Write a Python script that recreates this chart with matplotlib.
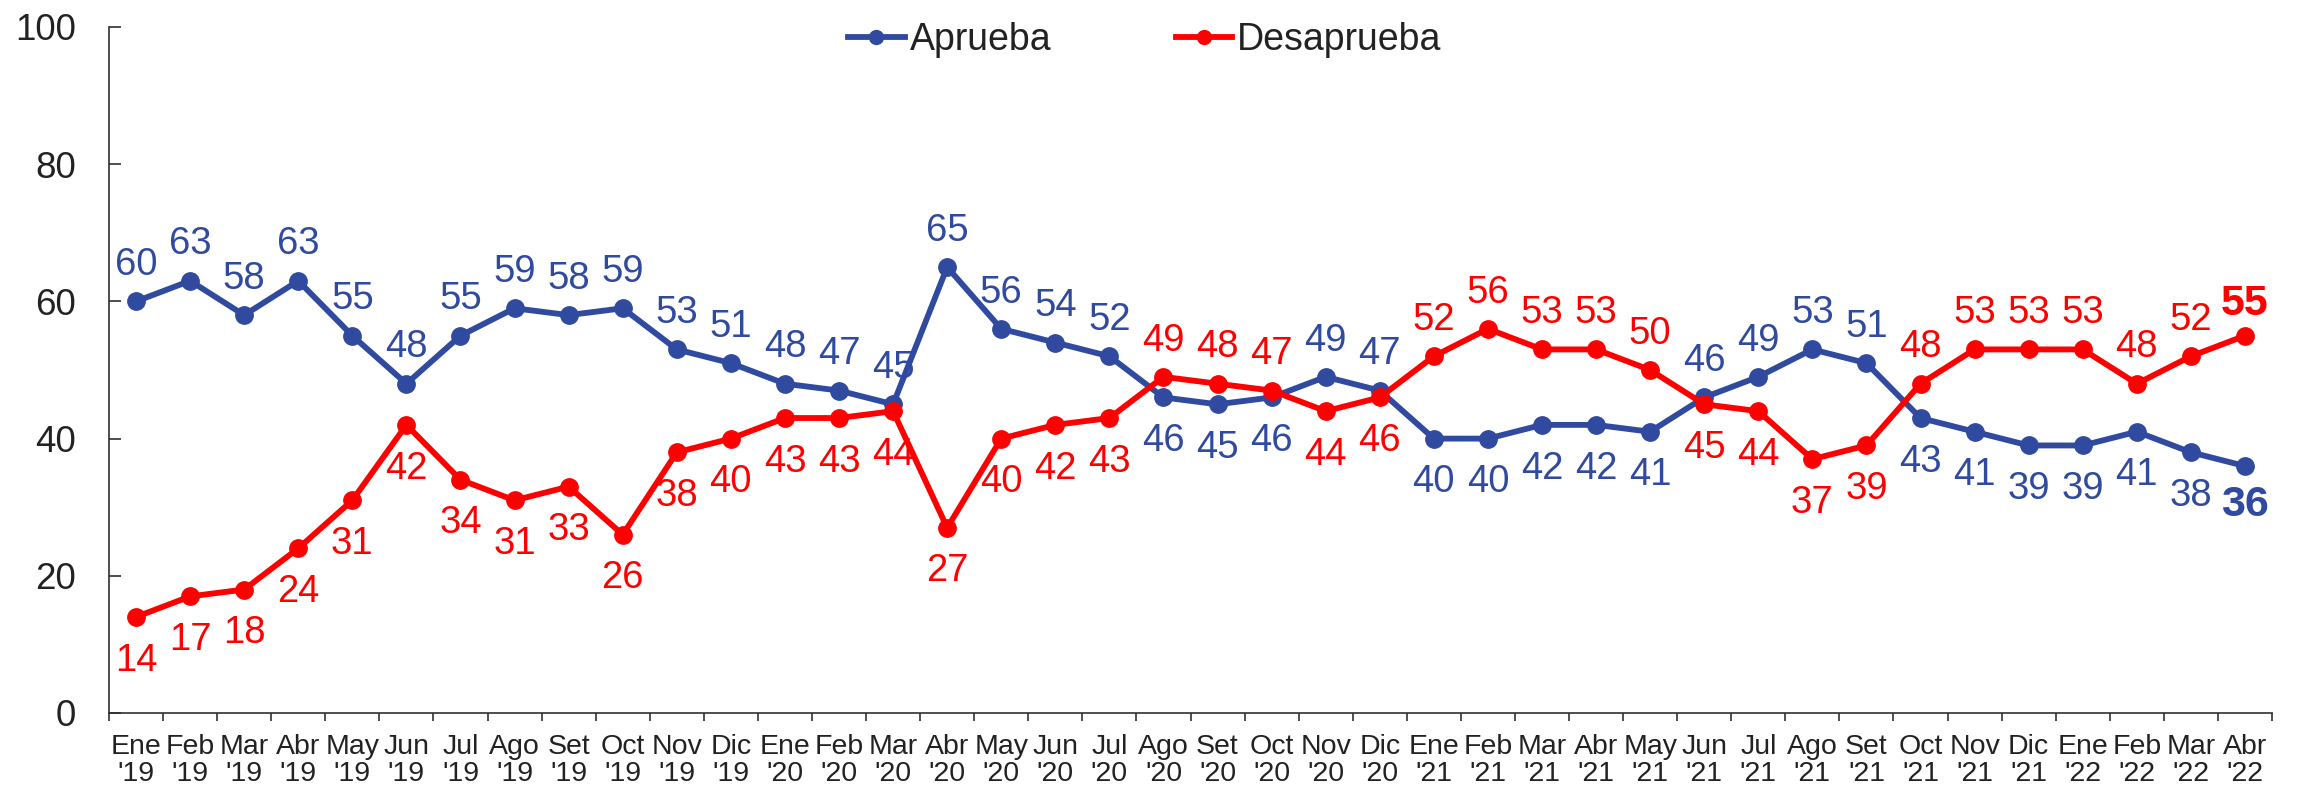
import matplotlib
matplotlib.use("Agg")
import matplotlib.pyplot as plt
from matplotlib.lines import Line2D

plt.rcParams['font.family'] = ['Liberation Sans', 'DejaVu Sans']

months = ["Ene '19", "Feb '19", "Mar '19", "Abr '19", "May '19", "Jun '19", "Jul '19", "Ago '19",
          "Set '19", "Oct '19", "Nov '19", "Dic '19",
          "Ene '20", "Feb '20", "Mar '20", "Abr '20", "May '20", "Jun '20", "Jul '20", "Ago '20",
          "Set '20", "Oct '20", "Nov '20", "Dic '20",
          "Ene '21", "Feb '21", "Mar '21", "Abr '21", "May '21", "Jun '21", "Jul '21", "Ago '21",
          "Set '21", "Oct '21", "Nov '21", "Dic '21",
          "Ene '22", "Feb '22", "Mar '22", "Abr '22"]
tick_labels = [m.replace(" ", "\n") for m in months]

aprueba = [60, 63, 58, 63, 55, 48, 55, 59, 58, 59, 53, 51, 48, 47, 45, 65, 56, 54, 52, 46,
           45, 46, 49, 47, 40, 40, 42, 42, 41, 46, 49, 53, 51, 43, 41, 39, 39, 41, 38, 36]
desaprueba = [14, 17, 18, 24, 31, 42, 34, 31, 33, 26, 38, 40, 43, 43, 44, 27, 40, 42, 43, 49,
              48, 47, 44, 46, 52, 56, 53, 53, 50, 45, 44, 37, 39, 48, 53, 53, 53, 48, 52, 55]
# label placement: 'a' = above point, 'b' = below point
aprueba_pos = list("aaaaaaaaaaaaaaaaaaa" "bbb" "aa" "bbbbb" "aaaa" "bbbbbbb")
desaprueba_pos = list("bbbbbbbbbbbbbbbbbbb" "aaa" "bb" "aaaaa" "bbbb" "aaaaaaa")

BLUE = "#2F4A9E"
RED = "#FF0000"
TXT = "#222222"

fig = plt.figure(figsize=(22.98, 7.90), dpi=100)
ax = fig.add_axes([109/2298, 1-713/790, (2272-109)/2298, (713-27)/790])

x = list(range(len(months)))
ax.plot(x, aprueba, color=BLUE, lw=4.2, marker='o', ms=12.5, solid_capstyle='round', zorder=3)
ax.plot(x, desaprueba, color=RED, lw=4.2, marker='o', ms=12.5, solid_capstyle='round', zorder=3)

def label(series, pos, color):
    n = len(series)
    for i, (v, p) in enumerate(zip(series, pos)):
        last = (i == n - 1)
        fs = 31 if last else 27.5
        fw = 'bold' if last else 'normal'
        cap = fs * 100 / 72 * 0.716
        if p == 'a':
            dy = (36 if last else 40) - cap / 2
        else:
            dy = -((35 if last else 40) + cap / 2)
        ax.annotate(str(v), (i, v), xytext=(0, dy), textcoords='offset pixels',
                    ha='center', va='baseline', fontsize=fs, fontweight=fw,
                    color=color, zorder=4)

label(aprueba, aprueba_pos, BLUE)
label(desaprueba, desaprueba_pos, RED)

ax.set_xlim(-0.5, len(months) - 0.5)
ax.set_ylim(0, 100)
ax.set_yticks([0, 20, 40, 60, 80, 100])
ax.tick_params(axis='y', direction='in', length=8.6, width=1.2, pad=24,
               labelsize=26.5, labelcolor=TXT, color='#303030')

ax.set_xticks([i - 0.5 for i in range(len(months) + 1)])
ax.set_xticklabels([])
ax.set_xticks(x, minor=True)
ax.set_xticklabels(tick_labels, minor=True)
ax.tick_params(axis='x', which='major', direction='out', length=6, width=1.2, color='#303030')
ax.tick_params(axis='x', which='minor', length=0, pad=15, labelsize=20.5, labelcolor=TXT)
for lbl in ax.get_xticklabels(minor=True):
    lbl.set_multialignment('center')
    lbl.set_linespacing(1.08)

for s in ['top', 'right']:
    ax.spines[s].set_visible(False)
for s in ['left', 'bottom']:
    ax.spines[s].set_color('#303030')
    ax.spines[s].set_linewidth(1.2)

handles = [Line2D([], [], color=BLUE, lw=4.2, marker='o', ms=10),
           Line2D([], [], color=RED, lw=4.2, marker='o', ms=10)]
leg = fig.legend(handles, ['Aprueba', 'Desaprueba'], loc='center',
                 bbox_to_anchor=(1145/2298, 1-40/790), ncol=2, frameon=False,
                 fontsize=27, handlelength=1.5, handletextpad=0.15,
                 columnspacing=3.3, labelcolor=TXT)

fig.savefig("out.png", dpi=100)
